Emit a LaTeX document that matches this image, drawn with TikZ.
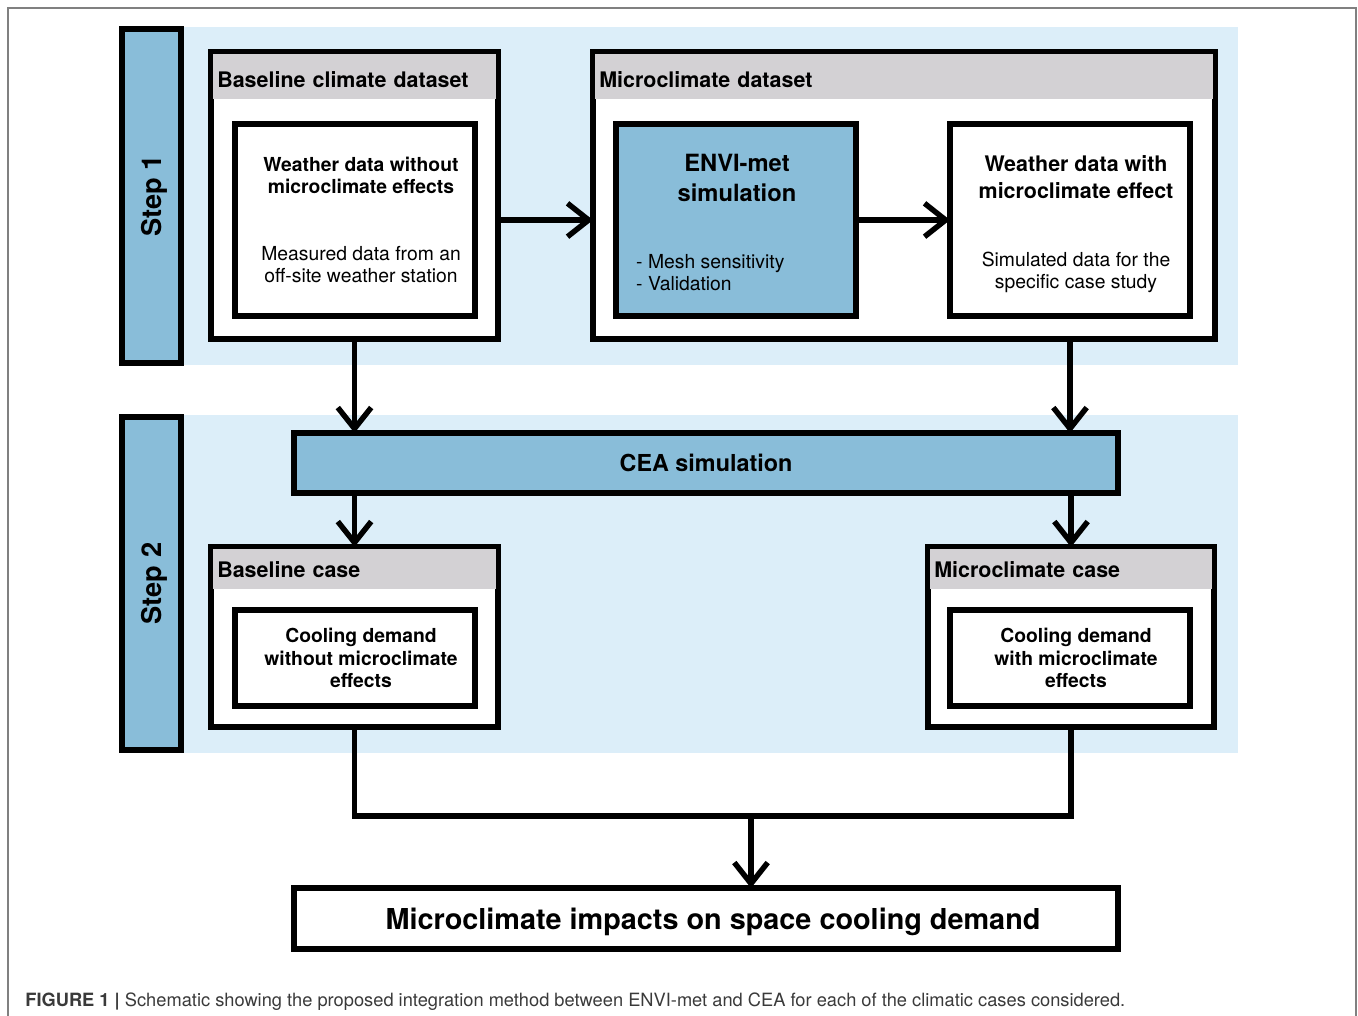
\documentclass[tikz,border=0pt]{standalone}
\usepackage{fontspec}
\setmainfont{TeX Gyre Heros}
\usetikzlibrary{arrows.meta,positioning}
\definecolor{bgblue}{HTML}{DCEEF9}
\definecolor{midblue}{HTML}{89BDD9}
\definecolor{hdrgray}{HTML}{D3D1D4}
\definecolor{capgray}{HTML}{3A3A3A}

\begin{document}
\begin{tikzpicture}[x=0.02cm, y=-0.02cm,
     lw/.style = {line width=2.9pt},
     wh/.style 2 args = {minimum width=#1*0.02cm, minimum height=#2*0.02cm},
     G/.style = {rectangle, fill=bgblue, inner sep=0pt},% light step backgrounds
     S/.style = {rectangle, draw, lw, fill=midblue, inner sep=0pt, outer sep=0pt,
                 rotate=90, text depth=0pt, font=\fontsize{15.5}{18}\selectfont\bfseries},
     C/.style = {rectangle, draw, lw, fill=white, inner sep=0pt, outer sep=0pt},% boxes
     H/.style 2 args = {rectangle, fill=hdrgray, anchor=north west, align=left,
                 text width=#1*0.02cm, minimum height=#2*0.02cm,
                 inner xsep=4*0.02cm, inner ysep=0pt,
                 font=\fontsize{12.2}{14}\selectfont\bfseries},% grey title bars
     T/.style = {align=center, font=\fontsize{11}{12.8}\selectfont},
     A/.style = {line width=3.1pt, -{Straight Barb[length=12pt,width=19pt]}},
                        ]
\clip (0,0) rectangle (1358,1015);
\draw[gray, line width=0.6pt] (8,8) rectangle (1356,1040);
% step backgrounds
\node[G, wh={1087}{338}] (bgA) at (694.5,196) {};
\node[G, wh={1087}{338}] (bgB) at (694.5,584) {};
\node[S, wh={334}{59}] (stepA) at (151.5,196) {Step 1};
\node[S, wh={333}{59}] (stepB) at (151.5,583.5) {Step 2};
% step 1
\node[C, wh={287}{287}] (bcd) at (354.5,195.5) {};
\node[H={275}{45}, text height=11.6pt, text depth=0pt] (bcdh)
     at ([shift={(2,2)}]bcd.north west) {Baseline climate dataset};
\node[C, wh={240}{192}] (bin) at (355,220) {};
\node[T] (bint) at ([shift={(6,0)}]bin.center)
     {\textbf{Weather data without}\\\textbf{microclimate effects}\\[25pt]
      Measured data from an\\off-site weather station};
\node[C, wh={622}{287}] (mcd) at (904,195.5) {};
\node[H={610}{45}, text height=11.6pt, text depth=0pt] (mcdh)
     at ([shift={(2,2)}]mcd.north west) {Microclimate dataset};
\node[C, wh={240}{192}, fill=midblue] (envi) at (736,220) {};
\node[align=center, font=\fontsize{13.5}{17}\selectfont\bfseries] (envit)
     at ([shift={(1,54)}]envi.north) {ENVI-met\\simulation};
\node[anchor=west, align=left, font=\fontsize{11}{12.5}\selectfont] (envil)
     at ([shift={(14,53)}]envi.west) {- Mesh sensitivity\\- Validation};
\node[C, wh={240}{192}] (wdw) at (1070,220) {};
\node[T, font=\fontsize{11}{12.5}\selectfont] (wdwt) at ([shift={(6,4)}]wdw.center)
     {{\fontsize{12.2}{15}\selectfont\bfseries Weather data with}\\[2.8pt]
      {\fontsize{12.2}{15}\selectfont\bfseries microclimate effect}\\[26pt]
      Simulated data for the\\specific case study};
\draw[A] (bcd.east |- bin.east) -- (mcd.west |- bin.east);
\draw[A] (envi.east) -- (wdw.west);
% step 2
\node[C, wh={824}{60}, fill=midblue, font=\fontsize{13.3}{16}\selectfont\bfseries]
     (cea) at (706,463) {CEA simulation};
\draw[A] (bcd.south) -- (bcd.south |- cea.north);
\draw[A] (wdw.south |- mcd.south) -- (wdw.south |- cea.north);
\node[C, wh={287}{180}] (bc) at (354.5,637) {};
\node[H={275}{40}] (bch) at ([shift={(2,2)}]bc.north west) {Baseline case};
\node[C, wh={240}{96}] (bcin) at (355,658) {};
\node[T, font=\fontsize{11}{12.8}\selectfont\bfseries] (bcint) at ([shift={(6,0)}]bcin.center)
     {Cooling demand\\without microclimate\\effects};
\node[C, wh={286}{180}] (mc) at (1071,637) {};
\node[H={274}{40}] (mch) at ([shift={(2,2)}]mc.north west) {Microclimate case};
\node[C, wh={240}{96}] (mcin) at (1070,658) {};
\node[T, font=\fontsize{11}{12.8}\selectfont\bfseries] (mcint) at ([shift={(6,0)}]mcin.center)
     {Cooling demand\\with microclimate\\effects};
\draw[A] (cea.south -| bc.north) -- (bc.north);
\draw[A] (cea.south -| mc.north) -- (mc.north);
% result
\coordinate (j) at (751,816);
\draw[A, -] (bc.south) |- (j) -| (mc.south);
\node[C, wh={824}{61}] (fin) at (706,918.5) {};
\node[font=\fontsize{16.4}{19}\selectfont\bfseries] (fint) at ([shift={(7,3)}]fin.center)
     {Microclimate impacts on space cooling demand};
\draw[A] (j) -- (j |- fin.north);
\node[anchor=west, inner sep=0pt, text=capgray, font=\fontsize{10.4}{12}\selectfont] (cap)
     at (25,1002) {\textbf{FIGURE 1 |} Schematic showing the proposed integration method
     between ENVI-met and CEA for each of the climatic cases considered.};
\end{tikzpicture}
\end{document}
